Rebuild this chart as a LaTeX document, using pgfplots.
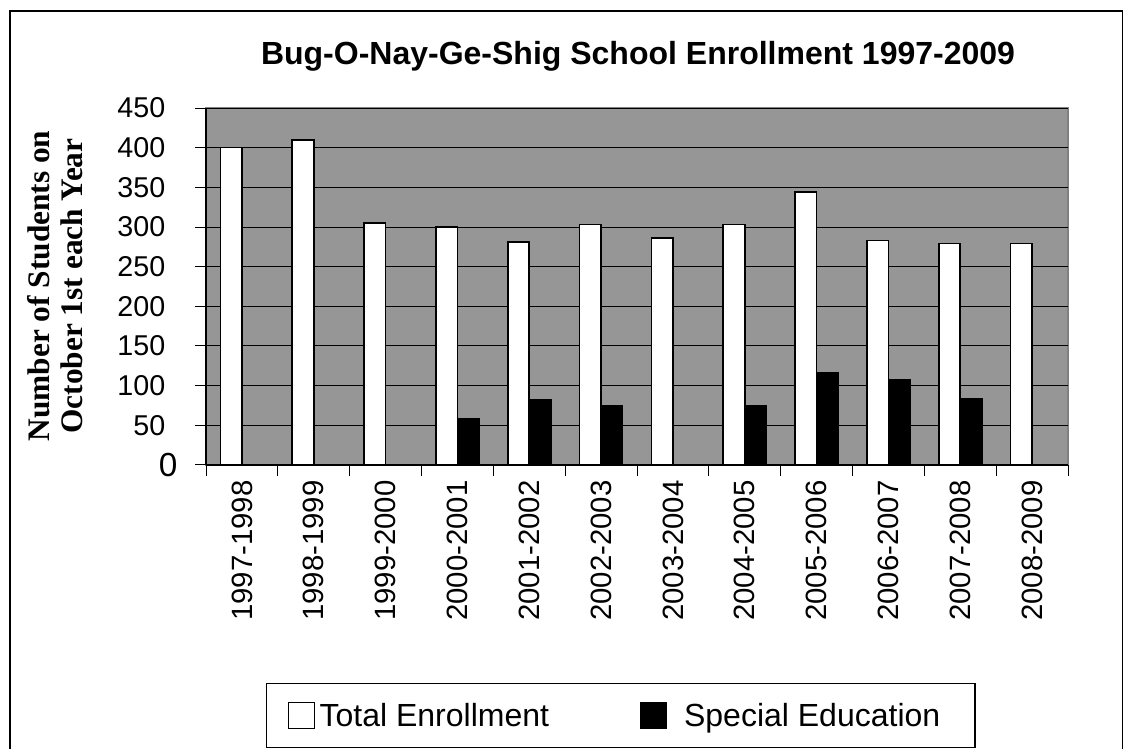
\documentclass[border=0pt]{standalone}
\usepackage{pgfplots}
\pgfplotsset{compat=1.18}
\usepackage{fontspec}
\setmainfont{Liberation Sans}
\newfontfamily\timesfont{Liberation Serif}
\definecolor{plotgray}{RGB}{150,150,150}
\definecolor{bordergray}{RGB}{128,128,128}

\begin{document}
\begin{tikzpicture}
\path[use as bounding box] (0,0) rectangle (843.75pt,561.75pt);
\draw[line width=1.2pt] (7.5pt,-2pt) -- (7.5pt,553.5pt) -- (842pt,553.5pt) -- (842pt,-2pt);
\node[anchor=base, font=\fontsize{24}{24}\selectfont\bfseries] at (478.5pt,513pt) {Bug-O-Nay-Ge-Shig School Enrollment 1997-2009};
\node[rotate=90, align=center, font=\timesfont\fontsize{23.5}{25}\selectfont\bfseries] at (41.5pt,347.25pt) {Number of Students on\\October 1st each Year};
\begin{axis}[
  at={(154.5pt,213pt)}, anchor=south west,
  scale only axis, width=646.5pt, height=267.75pt,
  xmin=0, xmax=12, ymin=0, ymax=450,
  axis background/.style={fill=plotgray, draw=bordergray, line width=1pt},
  axis x line*=bottom, axis y line*=left,
  axis line style={black, line width=1pt},
  ytick={50,100,...,450},
  extra y ticks={0},
  extra y tick style={yticklabel style={font=\fontsize{25}{25}\selectfont, xshift=9pt}},
  ymajorgrids, major grid style={black, line width=0.75pt},
  xtick={0,...,12}, x tick label as interval,
  xticklabels={1997-1998,1998-1999,1999-2000,2000-2001,2001-2002,2002-2003,2003-2004,2004-2005,2005-2006,2006-2007,2007-2008,2008-2009},
  tick align=outside, major tick length=8pt,
  tick style={black, line width=0.75pt},
  yticklabel style={font=\fontsize{21.5}{21.5}\selectfont, xshift=-19pt},
  xticklabel style={font=\fontsize{22}{22}\selectfont, rotate=90, anchor=east},
  /pgf/number format/assume math mode=true,
  legend columns=2,
  legend style={at={(0.0696,-0.6106)}, anchor=north west, draw=black, line width=1pt,
    font=\fontsize{24}{24}\selectfont, inner xsep=16pt, inner ysep=12.5pt,
    /tikz/every even column/.append style={column sep=66pt},
    /tikz/column 1/.style={column sep=1.5pt},
    /tikz/column 3/.style={column sep=11pt}},
  legend image code/.code={\draw[#1, line width=0.75pt] (0pt,-9.75pt) rectangle (19.5pt,9.75pt);},
]
\addplot[ybar, bar width=0.3, bar shift=-0.15, fill=white, draw=black, line width=1.2pt]
  coordinates {(0.5,400) (1.5,410) (2.5,305) (3.5,300) (4.5,281) (5.5,303) (6.5,286) (7.5,303) (8.5,344) (9.5,283) (10.5,279) (11.5,279)};
\addplot[ybar, bar width=0.3, bar shift=0.15, fill=black, draw=black, line width=1.2pt]
  coordinates {(3.5,58) (4.5,82) (5.5,75) (7.5,75) (8.5,116) (9.5,108) (10.5,84)};
\legend{Total Enrollment,Special Education\hspace*{8pt}\null}
\end{axis}
\end{tikzpicture}
\end{document}
